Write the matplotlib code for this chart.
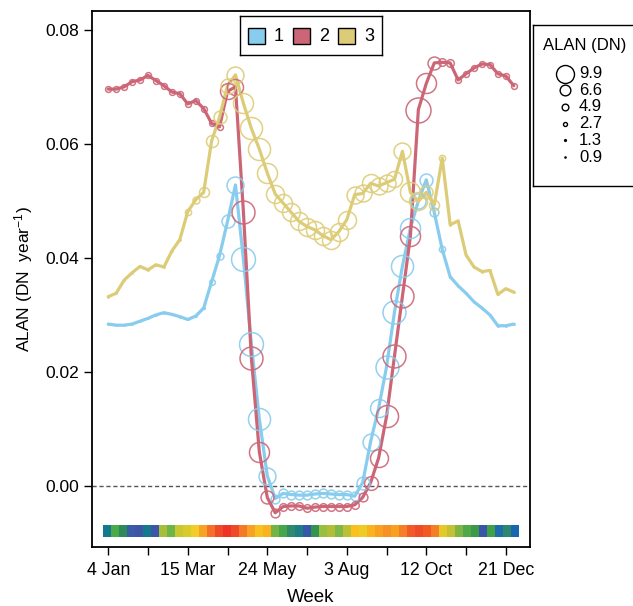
import numpy as np
import matplotlib
matplotlib.use("Agg")
import matplotlib.pyplot as plt
from matplotlib.patches import Rectangle

plt.rcParams['font.family'] = ['Liberation Sans', 'DejaVu Sans']
plt.rcParams['mathtext.default'] = 'regular'

weeks = np.arange(1, 53)

series_labels = ["1", "2", "3"]
series_colors = ["#88CCEE", "#CC6677", "#DDCC77"]

alan_trend_1 = [0.0284, 0.0282, 0.0282, 0.0284, 0.0289, 0.0294, 0.0300, 0.0304, 0.0301, 0.0297,
                0.0292, 0.0298, 0.0312, 0.0358, 0.0404, 0.0464, 0.0528, 0.0398, 0.0249, 0.0118,
                0.0018, -0.0022, -0.0013, -0.0015, -0.0016, -0.0016, -0.0014, -0.0013, -0.0014, -0.0015,
                -0.0015, -0.0018, 0.0006, 0.0078, 0.0136, 0.0209, 0.0305, 0.0386, 0.0452, 0.0500,
                0.0537, 0.0480, 0.0415, 0.0367, 0.0351, 0.0338, 0.0323, 0.0312, 0.0300, 0.0281,
                0.0281, 0.0284]
alan_trend_2 = [0.0696, 0.0696, 0.0700, 0.0709, 0.0712, 0.0720, 0.0711, 0.0702, 0.0691, 0.0688,
                0.0670, 0.0676, 0.0662, 0.0636, 0.0630, 0.0692, 0.0700, 0.0481, 0.0225, 0.0060,
                -0.0020, -0.0047, -0.0036, -0.0035, -0.0035, -0.0039, -0.0037, -0.0036, -0.0036, -0.0036,
                -0.0036, -0.0033, -0.0020, 0.0006, 0.0049, 0.0122, 0.0228, 0.0333, 0.0438, 0.0660,
                0.0706, 0.0742, 0.0743, 0.0742, 0.0712, 0.0723, 0.0733, 0.0740, 0.0739, 0.0723,
                0.0719, 0.0702]
alan_trend_3 = [0.0332, 0.0338, 0.0361, 0.0374, 0.0385, 0.0379, 0.0388, 0.0384, 0.0412, 0.0432,
                0.0481, 0.0502, 0.0515, 0.0605, 0.0647, 0.0702, 0.0721, 0.0671, 0.0627, 0.0591,
                0.0549, 0.0512, 0.0496, 0.0480, 0.0464, 0.0455, 0.0449, 0.0439, 0.0432, 0.0446,
                0.0467, 0.0511, 0.0513, 0.0531, 0.0526, 0.0532, 0.0538, 0.0587, 0.0515, 0.0499,
                0.0515, 0.0493, 0.0575, 0.0458, 0.0465, 0.0405, 0.0384, 0.0376, 0.0378, 0.0336,
                0.0346, 0.0340]

alan_dn_1 = [1.0, 1.0, 1.0, 1.0, 1.0, 1.0, 1.0, 1.0, 1.0, 1.0,
             1.0, 1.0, 1.3, 4.0, 5.0, 7.6, 9.4, 12.5, 12.5, 11.7,
             9.4, 5.8, 5.8, 5.8, 5.8, 5.8, 5.8, 5.8, 5.8, 5.8,
             5.8, 5.8, 7.6, 9.4, 9.9, 12.1, 12.1, 11.7, 10.8, 8.6,
             7.6, 5.8, 4.5, 1.3, 1.0, 1.0, 1.0, 1.0, 1.0, 1.0,
             1.0, 1.0]
alan_dn_2 = [4.2, 4.2, 4.2, 4.2, 4.2, 4.2, 4.2, 4.2, 4.2, 4.2,
             4.2, 4.2, 4.2, 4.2, 4.2, 9.0, 9.0, 12.1, 12.1, 10.8,
             7.6, 5.8, 5.3, 5.3, 5.3, 5.3, 5.3, 5.3, 5.3, 5.3,
             5.3, 5.3, 5.8, 8.0, 9.9, 11.7, 12.1, 12.1, 10.8, 13.0,
             10.8, 7.6, 5.3, 5.3, 4.2, 4.2, 4.2, 4.2, 4.2, 4.2,
             4.2, 4.2]
alan_dn_3 = [1.0, 1.0, 1.0, 1.0, 1.0, 1.0, 1.0, 1.0, 1.0, 1.0,
             4.5, 5.0, 6.3, 7.2, 7.6, 8.6, 9.4, 10.8, 11.7, 11.7,
             10.8, 9.9, 9.9, 9.9, 9.9, 9.9, 9.9, 9.9, 9.9, 9.9,
             9.9, 9.4, 9.4, 9.9, 9.4, 9.4, 9.0, 9.4, 10.8, 9.9,
             7.6, 6.3, 4.5, 1.0, 1.0, 1.0, 1.0, 1.0, 1.0, 1.0,
             1.0, 1.0]

week_colors = ["#127A8C", "#4AAA4A", "#2E8B57", "#3A5BA8", "#3D55A5", "#127A8C", "#3D55A5", "#A8BE3A",
               "#6DB548", "#C8C830", "#D9CB2A", "#F2CC28", "#F7A223", "#F4702A", "#EE4A2A", "#EE3525",
               "#EE4A2A", "#F47A2A", "#F7A223", "#F8C020", "#FBB21F", "#74B445", "#45A64A", "#2E8A6A",
               "#1E7E85", "#3558A8", "#339450", "#98BF42", "#B2BE38", "#7FB848", "#BCC035", "#FCC01E",
               "#EDCD25", "#FBB21F", "#F8A020", "#F79025", "#F8A020", "#F47F28", "#F25A2A", "#EE4B27",
               "#F25A22", "#F47F28", "#E4CA28", "#C2C234", "#7FB545", "#51A848", "#3A9A48", "#3A55A8",
               "#40A048", "#1C6DA8", "#2E8670", "#1766B0"]

tick_weeks = [1, 6, 11, 16, 21, 26, 31, 36, 41, 46, 51]
tick_labels = ["4 Jan", "", "15 Mar", "", "24 May", "", "3 Aug", "", "12 Oct", "", "21 Dec"]
y_ticks = [0.00, 0.02, 0.04, 0.06, 0.08]

legend_values = [9.9, 6.6, 4.9, 2.7, 1.3, 0.9]

W, H = 633, 606
DPI = 100


def diam_pt(v):
    px = np.interp(v, [0.9, 1.3, 2.7, 4.9, 6.6, 9.9, 13.0], [1.2, 1.8, 4.0, 6.7, 10.7, 18.0, 25.0])
    return px * 72.0 / DPI


fig = plt.figure(figsize=(W / DPI, H / DPI), dpi=DPI)
ax = fig.add_axes([92 / W, 1 - 547 / H, (530 - 92) / W, (547 - 11) / H])

series = [alan_trend_1, alan_trend_2, alan_trend_3]
sizes = [alan_dn_1, alan_dn_2, alan_dn_3]

ax.axhline(0, color="#555555", lw=1.0, ls=(0, (3, 2)), zorder=1)

for vals, sz, col in zip(series, sizes, series_colors):
    ax.plot(weeks, vals, color=col, lw=2.3, zorder=2, solid_capstyle="round")
    for w, v, s in zip(weeks, vals, sz):
        ax.plot([w], [v], marker="o", ms=diam_pt(s), mfc="none", mec=col, mew=1.1,
                alpha=0.9, zorder=3)

# week colour strip
edges = np.linspace(0.32, 52.7, len(week_colors) + 1)
for i, c in enumerate(week_colors):
    ax.add_patch(Rectangle((edges[i], -0.0090), edges[i + 1] - edges[i], 0.0022,
                           facecolor=c, edgecolor="none", zorder=1))

ax.set_xlim(-1.04, 54.04)
ax.set_ylim(-0.0107, 0.0833)
ax.set_xticks(tick_weeks)
ax.set_xticklabels(tick_labels, fontsize=12.8)
ax.set_yticks(y_ticks)
ax.set_yticklabels(["%.2f" % v for v in y_ticks], fontsize=12.5)
ax.tick_params(direction="out", length=6, width=1.0, pad=3)
ax.tick_params(axis="x", pad=5)
for sp in ax.spines.values():
    sp.set_linewidth(1.3)
ax.set_xlabel("Week", fontsize=13.5, labelpad=7)
ax.set_ylabel("ALAN (DN  year$^{-1}$)", fontsize=12.5, labelpad=8)

# series legend (top centre)
lg = fig.add_axes([240 / W, 1 - 55 / H, 142 / W, 39 / H])
lg.set_xlim(0, 142)
lg.set_ylim(39, 0)
lg.set_xticks([])
lg.set_yticks([])
lg.set_facecolor("white")
for sp in lg.spines.values():
    sp.set_linewidth(1.0)
for k, (lab, col) in enumerate(zip(series_labels, series_colors)):
    x0 = 8 + k * 45
    lg.add_patch(Rectangle((x0, 12), 17, 16, facecolor=col, edgecolor="black", lw=1.0))
    lg.text(x0 + 31, 20.5, lab, fontsize=13, ha="center", va="center")

# size legend (right)
sl = fig.add_axes([533 / W, 1 - 186 / H, 120 / W, 161 / H])
sl.set_xlim(0, 120)
sl.set_ylim(161, 0)
sl.set_xticks([])
sl.set_yticks([])
for sp in sl.spines.values():
    sp.set_linewidth(1.0)
sl.text(52, 20, "ALAN (DN)", fontsize=12, ha="center", va="center")
for k, v in enumerate(legend_values):
    yy = 48.5 + k * 16.7
    sl.plot([31.5], [yy], marker="o", ms=diam_pt(v), mfc="none", mec="black", mew=1.0)
    sl.text(46, yy, "%.1f" % v, fontsize=12, ha="left", va="center")

fig.savefig("out.png", dpi=DPI)
